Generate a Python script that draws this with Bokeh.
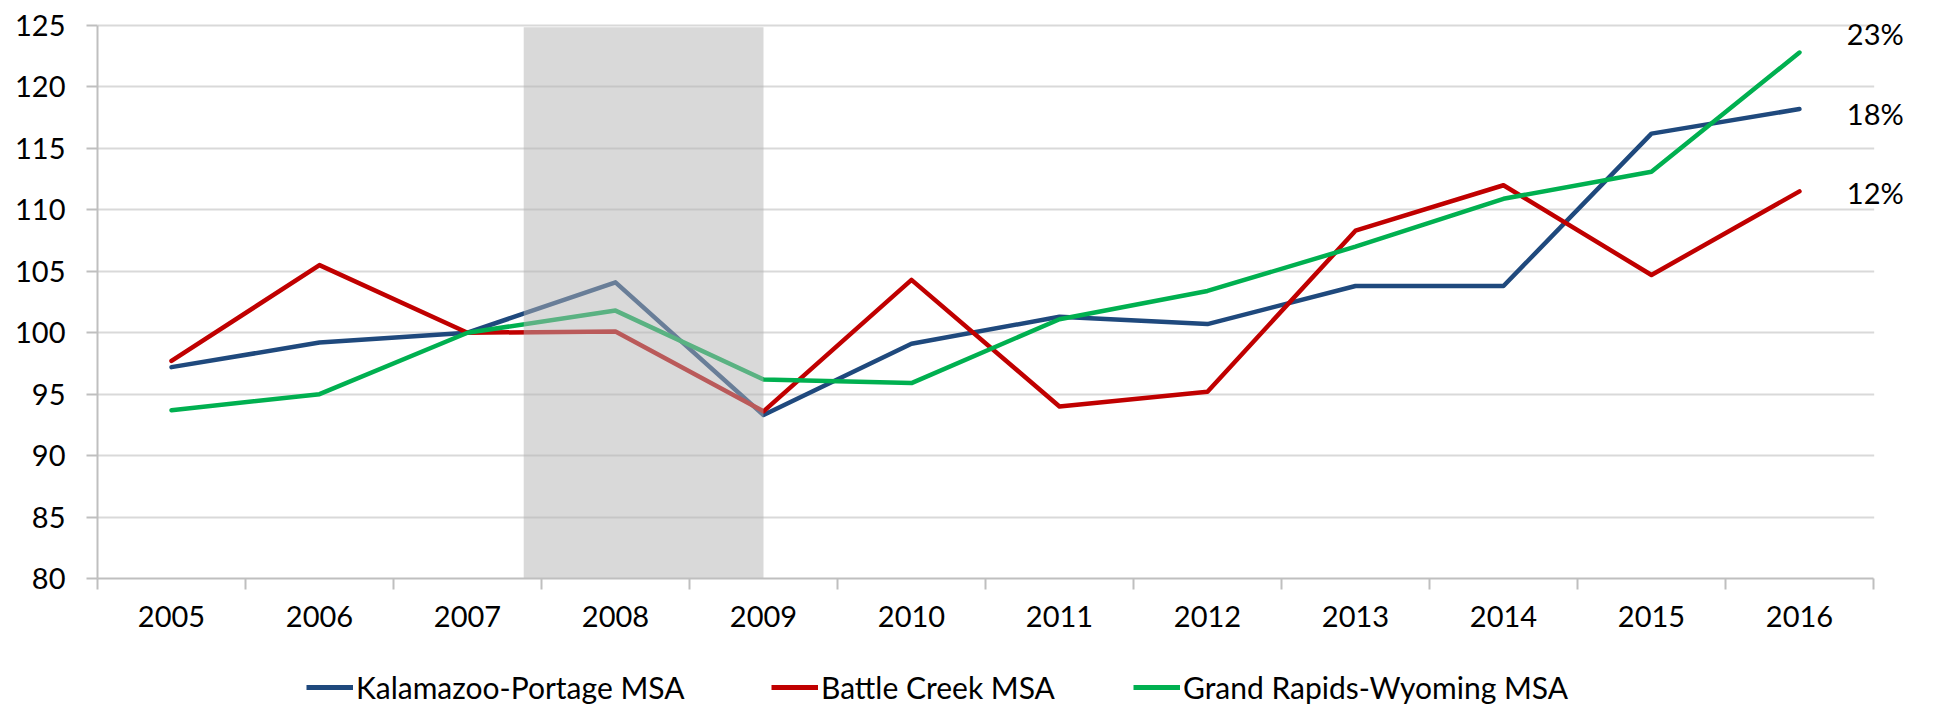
from bokeh.plotting import figure
from bokeh.layouts import column
from bokeh.models import FixedTicker, Legend, LegendItem, Label, NumeralTickFormatter, Range1d
from bokeh.embed import file_html
from bokeh.resources import INLINE

years = [2005, 2006, 2007, 2008, 2009, 2010, 2011, 2012, 2013, 2014, 2015, 2016]
kalamazoo = [97.2, 99.2, 100.0, 104.1, 93.3, 99.1, 101.3, 100.7, 103.8, 103.8, 116.2, 118.2]
battle_creek = [97.7, 105.5, 100.0, 100.1, 93.6, 104.3, 94.0, 95.2, 108.3, 112.0, 104.7, 111.5]
grand_rapids = [93.7, 95.0, 100.0, 101.8, 96.2, 95.9, 101.1, 103.4, 107.0, 110.9, 113.1, 122.8]
series_names = ["Kalamazoo-Portage MSA", "Battle Creek MSA", "Grand Rapids-Wyoming MSA"]
end_labels = ["18%", "12%", "23%"]
y_ticks = [80, 85, 90, 95, 100, 105, 110, 115, 120, 125]
recession = (2007.38, 2009.0)

colors = ["#1f497d", "#c00000", "#00b050"]
FONT = "Lato"
FS = "29px"

x_lo = years[0] - 0.5
x_hi = years[-1] + 0.5
x_end = x_hi + 0.453        # extra room right of the plot for the end labels
y_end = y_ticks[-1] + 2.034  # extra room above the plot for the top label

W = 1940
MAIN_H = 650
LEG_H = 705 - MAIN_H
FRAME_LEFT = 97

p = figure(width=W, height=MAIN_H, output_backend="svg", toolbar_location=None,
           x_range=Range1d(x_lo, x_end), y_range=Range1d(y_ticks[0], y_end),
           min_border_left=FRAME_LEFT, min_border_right=0, min_border_top=0,
           min_border_bottom=MAIN_H - 578)
p.outline_line_color = None
p.background_fill_color = "white"
p.border_fill_color = "white"

series = [kalamazoo, battle_creek, grand_rapids]
for data, c in zip(series, colors):
    p.line(years, data, line_color=c, line_width=4.5, line_join="round", line_cap="round")

# recession shading (drawn over the lines, semi-transparent)
p.quad(left=recession[0], right=recession[1], bottom=y_ticks[0], top=y_ticks[-1] - 0.14,
       fill_color="#b4b4b4", fill_alpha=0.5, line_color=None)

# hide grid lines in the label margin at the right
p.quad(left=x_hi + 0.005, right=x_end, bottom=y_ticks[0], top=y_end,
       fill_color="white", line_color=None)

# axes
p.xaxis.ticker = FixedTicker(ticks=years, minor_ticks=[y - 0.5 for y in years] + [x_hi])
p.xaxis.bounds = (x_lo, x_hi)
p.xaxis.formatter = NumeralTickFormatter(format="0")
p.xaxis.major_tick_out = 0
p.xaxis.major_tick_in = 0
p.xaxis.minor_tick_out = 11
p.xaxis.minor_tick_in = 0
p.xaxis.minor_tick_line_color = "#bfbfbf"
p.xaxis.minor_tick_line_width = 2
p.xaxis.axis_line_color = "#bfbfbf"
p.xaxis.axis_line_width = 2
p.xaxis.major_label_standoff = 16

p.yaxis.ticker = FixedTicker(ticks=y_ticks, minor_ticks=[])
p.yaxis.bounds = (y_ticks[0], y_ticks[-1])
p.yaxis.major_tick_out = 11
p.yaxis.major_tick_in = 0
p.yaxis.major_tick_line_color = "#bfbfbf"
p.yaxis.major_tick_line_width = 2
p.yaxis.minor_tick_line_color = None
p.yaxis.axis_line_color = "#bfbfbf"
p.yaxis.axis_line_width = 2
p.yaxis.major_label_standoff = 21

for ax in (p.xaxis, p.yaxis):
    ax.major_label_text_font = FONT
    ax.major_label_text_font_size = FS
    ax.major_label_text_color = "black"

p.xgrid.grid_line_color = None
p.ygrid.grid_line_color = "#d9d9d9"
p.ygrid.grid_line_width = 2

# end labels
label_y = [117.86, 111.41, 124.32]
for txt, yy in zip(end_labels, label_y):
    p.add_layout(Label(x=years[-1] + 0.32, y=yy, text=txt, text_font=FONT,
                       text_font_size=FS, text_color="black",
                       text_baseline="middle", text_align="left"))

# legend strip (its line renderers are hidden; only the legend is shown)
q = figure(width=W, height=LEG_H, output_backend="svg", toolbar_location=None,
           x_range=Range1d(0, 1), y_range=Range1d(0, 1),
           x_axis_location=None, y_axis_location=None,
           min_border_left=FRAME_LEFT, min_border_right=0, min_border_top=0, min_border_bottom=0)
q.grid.visible = False
q.outline_line_color = None
q.background_fill_color = "white"
q.border_fill_color = "white"

legend_x = [306, 771, 1133]
for name, data, c, lx in zip(series_names, series, colors, legend_x):
    hidden = q.line(years, data, line_color=c, line_width=5, visible=False)
    lg = Legend(items=[LegendItem(label=name, renderers=[hidden])],
                orientation="horizontal", location=(lx - FRAME_LEFT, 0),
                label_text_font=FONT, label_text_font_size="30px", label_text_color="black",
                glyph_width=47, glyph_height=20, label_standoff=3,
                inactive_fill_alpha=0,
                padding=0, margin=0, border_line_color=None, background_fill_alpha=0)
    q.add_layout(lg, "center")

layout = column(p, q, spacing=0)
open("out.html", "w").write(file_html(layout, INLINE))
